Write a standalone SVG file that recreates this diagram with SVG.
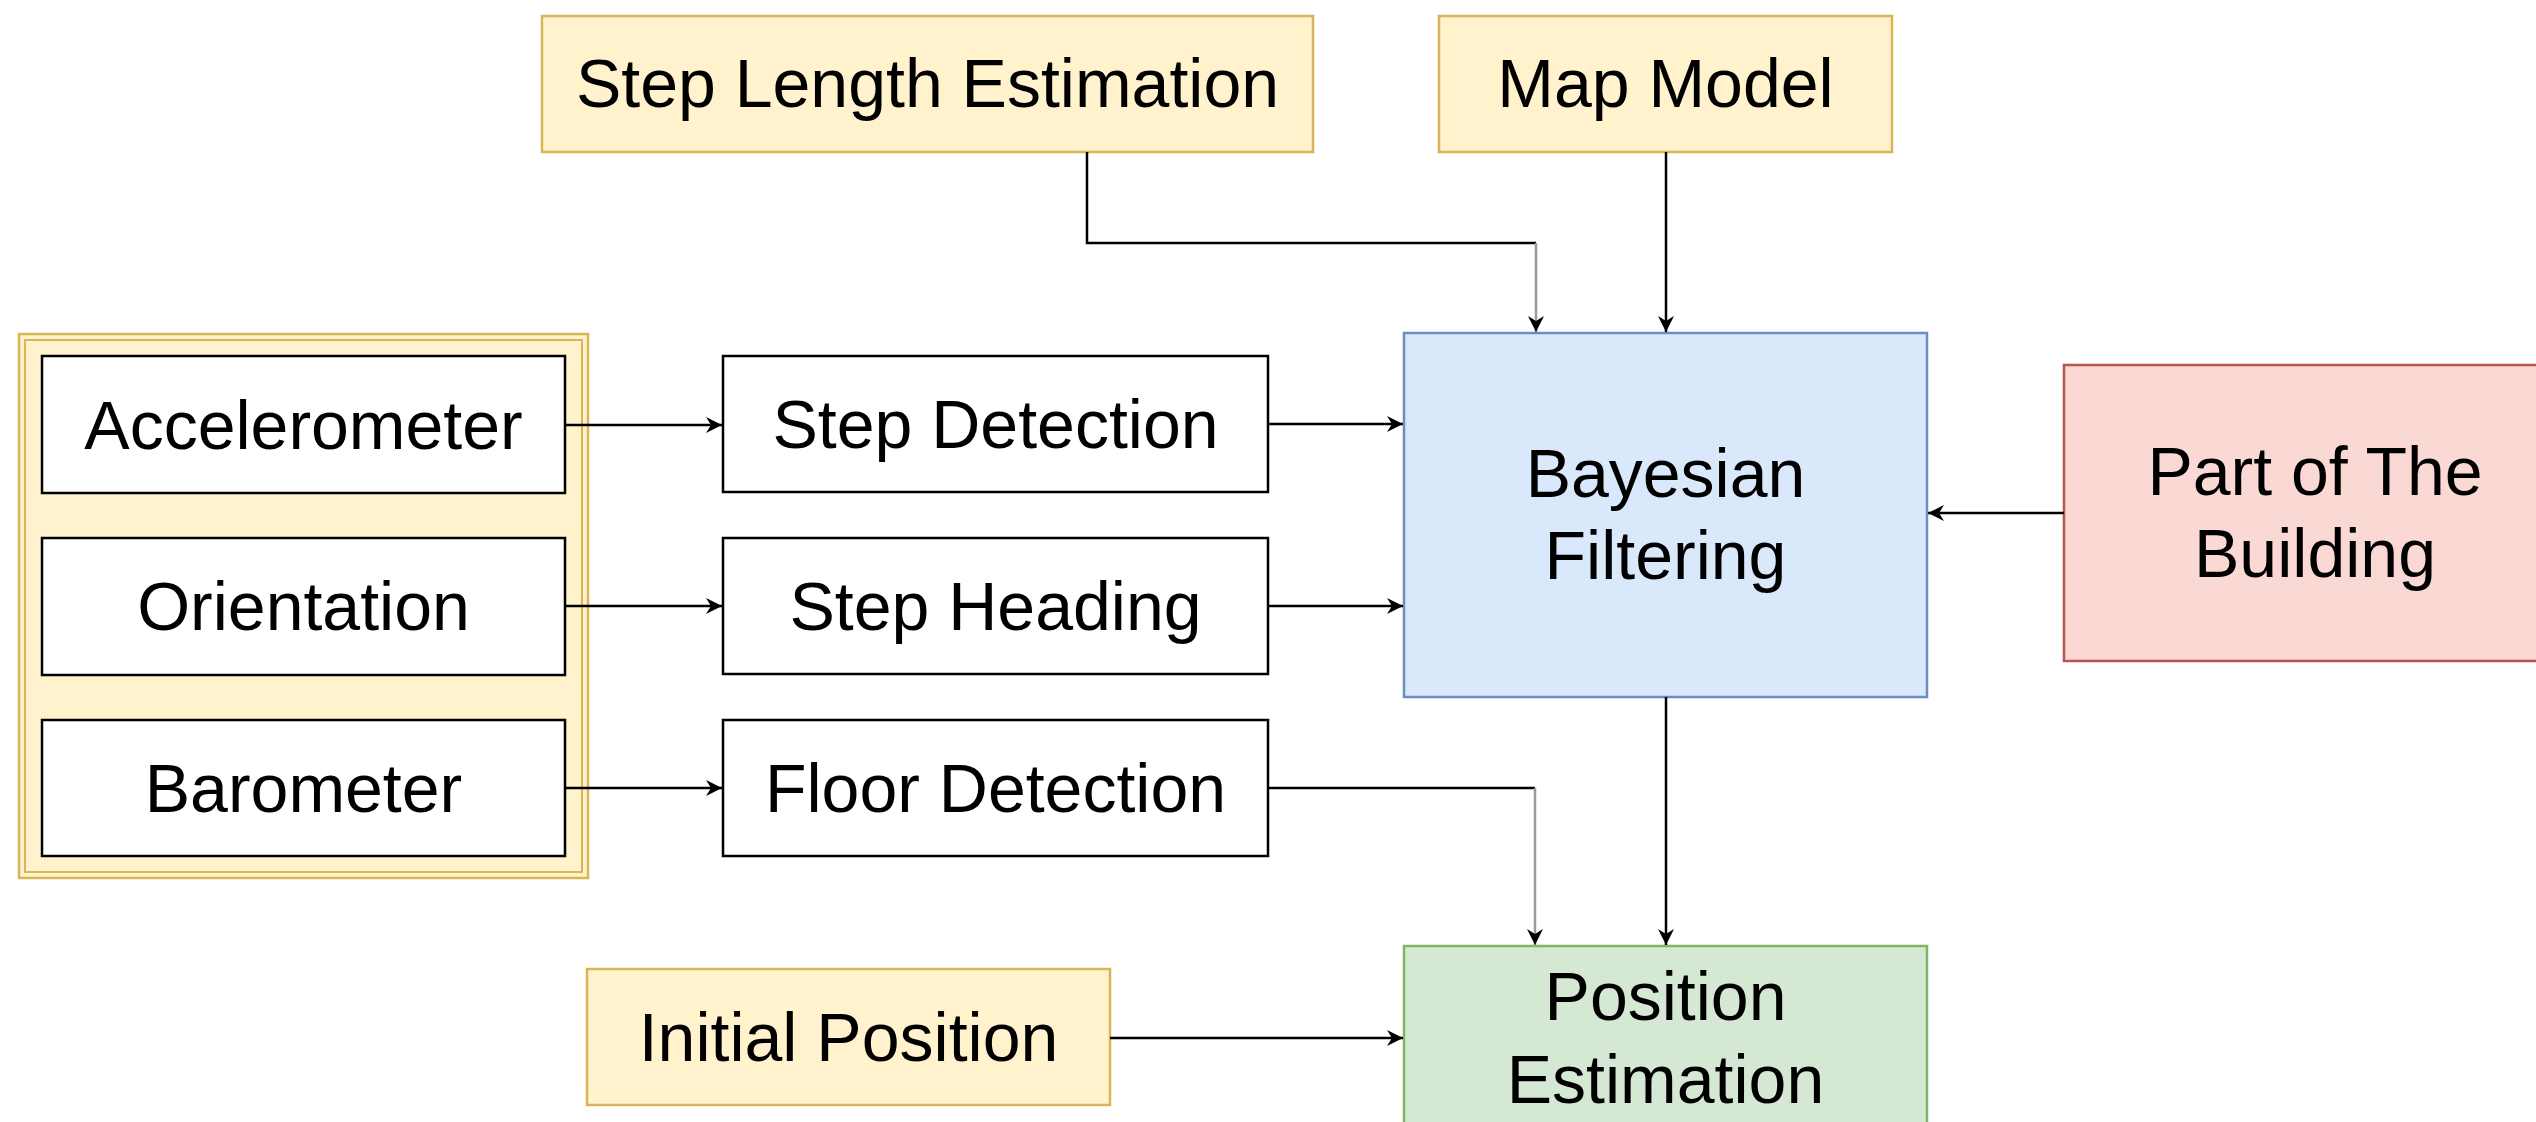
<svg xmlns="http://www.w3.org/2000/svg" width="2536" height="1122" viewBox="0 0 2536 1122">
<style>
text{font-family:"Liberation Sans",Arial,sans-serif;font-size:68px;fill:#000;text-anchor:middle}
.y{fill:#fff2cc;stroke:#d6b656;stroke-width:2.5}
.w{fill:#fff;stroke:#000;stroke-width:2.5}
.b{fill:#dae8fc;stroke:#6c8ebf;stroke-width:2.5}
.g{fill:#d5e8d4;stroke:#82b366;stroke-width:2.5}
.r{fill:#fad9d5;stroke:#b85450;stroke-width:2.5}
.c{fill:none;stroke:#000;stroke-width:2.5}
.cg{fill:none;stroke:#9a9a9a;stroke-width:2.5}
</style>
<defs>
<marker id="arr" viewBox="-17 -10 18 20" refX="0" refY="0" markerWidth="18" markerHeight="20" markerUnits="userSpaceOnUse" orient="auto">
<path d="M0,0 L-16,-8 L-11,0 L-16,8 Z" fill="#000"/>
</marker>
</defs>
<rect width="2536" height="1122" fill="#fff"/>

<g id="sensors">
<rect class="y" x="19" y="334" width="569" height="544"/>
<rect x="25" y="340" width="557" height="532" fill="none" stroke="#d6b656" stroke-width="2"/>
</g>
<g id="accelerometer"><rect class="w" x="42" y="356" width="523" height="137"/><text x="303.5" y="449">Accelerometer</text></g>
<g id="orientation"><rect class="w" x="42" y="538" width="523" height="137"/><text x="303.5" y="630">Orientation</text></g>
<g id="barometer"><rect class="w" x="42" y="720" width="523" height="136"/><text x="303.5" y="812">Barometer</text></g>

<g id="step-detection"><rect class="w" x="723" y="356" width="545" height="136"/><text x="995.5" y="448">Step Detection</text></g>
<g id="step-heading"><rect class="w" x="723" y="538" width="545" height="136"/><text x="995.5" y="630">Step Heading</text></g>
<g id="floor-detection"><rect class="w" x="723" y="720" width="545" height="136"/><text x="995.5" y="812">Floor Detection</text></g>

<g id="step-length"><rect class="y" x="542" y="16" width="771" height="136"/><text x="927.5" y="107">Step Length Estimation</text></g>
<g id="map-model"><rect class="y" x="1439" y="16" width="453" height="136"/><text x="1665.5" y="107">Map Model</text></g>

<g id="bayesian"><rect class="b" x="1404" y="333" width="523" height="364"/><text x="1665.5" y="497">Bayesian</text><text x="1665.5" y="579">Filtering</text></g>
<g id="building"><rect class="r" x="2064" y="365" width="510" height="296"/><text x="2315" y="495">Part of The</text><text x="2315" y="577">Building</text></g>
<g id="position"><rect class="g" x="1404" y="946" width="523" height="190"/><text x="1665.5" y="1020">Position</text><text x="1665.5" y="1103">Estimation</text></g>
<g id="initial"><rect class="y" x="587" y="969" width="523" height="136"/><text x="848.5" y="1061">Initial Position</text></g>

<g id="connectors">
<path class="c" d="M565,425 H722" marker-end="url(#arr)"/>
<path class="c" d="M565,606 H722" marker-end="url(#arr)"/>
<path class="c" d="M565,788 H722" marker-end="url(#arr)"/>
<path class="c" d="M1268,424 H1403" marker-end="url(#arr)"/>
<path class="c" d="M1268,606 H1403" marker-end="url(#arr)"/>
<path class="c" d="M1087,152 V243 H1536"/>
<path class="cg" d="M1536,243 V332" marker-end="url(#arr)"/>
<path class="c" d="M1666,152 V332" marker-end="url(#arr)"/>
<path class="c" d="M2064,513 H1928" marker-end="url(#arr)"/>
<path class="c" d="M1666,697 V945" marker-end="url(#arr)"/>
<path class="c" d="M1268,788 H1535"/>
<path class="cg" d="M1535,788 V945" marker-end="url(#arr)"/>
<path class="c" d="M1110,1038 H1403" marker-end="url(#arr)"/>
</g>
</svg>
